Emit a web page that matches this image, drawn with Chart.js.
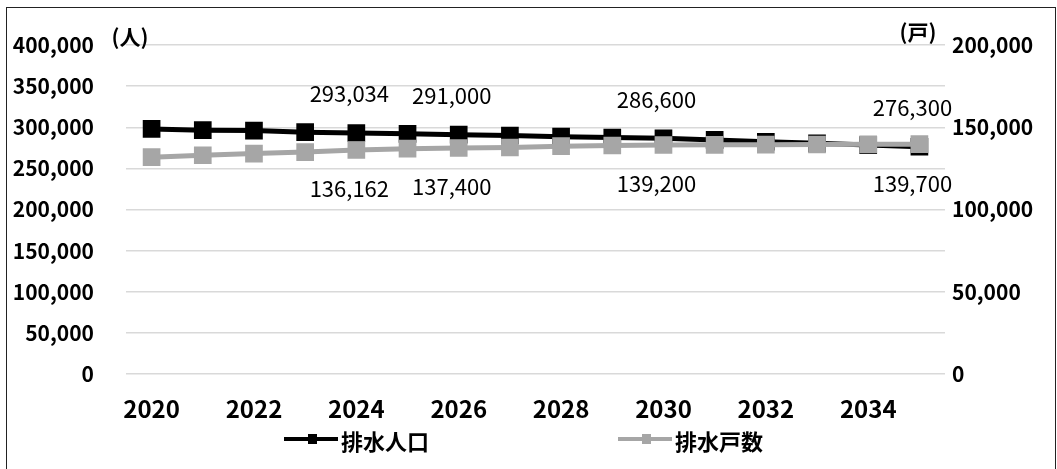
<!DOCTYPE html>
<html lang="ja">
<head>
<meta charset="utf-8">
<script src="https://cdn.jsdelivr.net/npm/chart.js@4.4.1/dist/chart.umd.min.js"></script>
<style>
  html, body { margin: 0; padding: 0; background: #fff; }
  #wrap { position: relative; width: 1057px; height: 469px; overflow: hidden; }
  #drain-chart { position: absolute; left: 0; top: 0; }
  #frame {
    position: absolute; left: 6px; top: 7px; width: 1048px; height: 470px;
    border: 1.5px solid #222; pointer-events: none;
  }
  .legend-item { position: absolute; top: 427px; height: 24px; }
  .legend-item .line { position: absolute; left: 0; top: 10px; width: 54px; height: 4px; }
  .legend-item .mark { position: absolute; left: 24px; top: 7px; width: 9px; height: 10px; }
  .legend-item span {
    position: absolute; left: 57px; top: -3px; white-space: nowrap;
    font: bold 22px "Noto Sans CJK JP", sans-serif; color: #000;
  }
</style>
</head>
<body>
<div id="wrap">
  <canvas id="drain-chart" width="1057" height="469"></canvas>
  <div id="frame"></div>
  <div class="legend-item" style="left:284px">
    <div class="line" style="background:#000"></div><div class="mark" style="background:#000"></div><span>排水人口</span>
  </div>
  <div class="legend-item" style="left:618px">
    <div class="line" style="background:#a6a6a6"></div><div class="mark" style="background:#a6a6a6"></div><span>排水戸数</span>
  </div>
</div>
<script>
const years = [2020, 2021, 2022, 2023, 2024, 2025, 2026, 2027, 2028, 2029, 2030, 2031, 2032, 2033, 2034, 2035];
const population = [298000, 296500, 296000, 294000, 293034, 292000, 291000, 290000, 288500, 287500, 286600, 284600, 282400, 280400, 278300, 276300];
const households = [131800, 133000, 134000, 134900, 136162, 137000, 137400, 137700, 138500, 138900, 139200, 139300, 139400, 139500, 139600, 139700];
const labeledYears = [2024, 2026, 2030, 2035];
const leftTicks = [0, 50000, 100000, 150000, 200000, 250000, 300000, 350000, 400000];
const rightTicks = [0, 50000, 100000, 150000, 200000];

const font = '"Noto Sans CJK JP", "Noto Sans", sans-serif';
Chart.defaults.font.family = font;
Chart.defaults.color = "#000";

const fmt = (v) => v.toLocaleString("en-US");

// value labels above/below points, plus unit captions
const valueLabels = {
  id: "valueLabels",
  afterDatasetsDraw(chart) {
    const ctx = chart.ctx;
    const area = chart.chartArea;
    ctx.save();
    ctx.fillStyle = "#000";
    ctx.textAlign = "center";
    ctx.textBaseline = "middle";
    ctx.font = `22px ${font}`;
    chart.data.datasets.forEach((ds, i) => {
      const meta = chart.getDatasetMeta(i);
      const dy = i === 0 ? -39 : 39;
      labeledYears.forEach((yr) => {
        const j = years.indexOf(yr);
        const pt = meta.data[j];
        ctx.fillText(fmt(ds.data[j]), pt.x - 7, pt.y + dy);
      });
    });
    ctx.font = `bold 21px ${font}`;
    ctx.fillText("(人)", area.left + 4, area.top - 8);
    ctx.fillText("(戸)", area.right - 27, area.top - 13);
    ctx.restore();
  },
};

window.onload = () => {
  const ctx = document.getElementById("drain-chart");
  new Chart(ctx, {
    type: "line",
    data: {
      labels: years,
      datasets: [
        {
          label: "排水人口",
          data: population,
          yAxisID: "y",
          order: 1,
          borderColor: "#000",
          backgroundColor: "#000",
          borderWidth: 5,
          pointStyle: "rect",
          pointRadius: 12.5,
          pointBorderWidth: 0,
          tension: 0,
        },
        {
          label: "排水戸数",
          data: households,
          yAxisID: "y2",
          order: 0,
          borderColor: "#a6a6a6",
          backgroundColor: "#a6a6a6",
          borderWidth: 5,
          pointStyle: "rect",
          pointRadius: 12.5,
          pointBorderWidth: 0,
          tension: 0,
        },
      ],
    },
    options: {
      responsive: false,
      animation: false,
      devicePixelRatio: 1,
      layout: { padding: { top: 45, left: 0, right: 0, bottom: 0 } },
      plugins: { legend: { display: false }, tooltip: { enabled: false } },
      scales: {
        x: {
          offset: true,
          grid: { display: false, drawTicks: false },
          border: { display: false },
          ticks: {
            autoSkip: false,
            maxRotation: 0,
            padding: 20,
            font: { size: 24, weight: "bold" },
            callback: (v, i) => (i % 2 === 0 ? years[i] : ""),
          },
          afterFit: (s) => { s.height = 95; },
        },
        y: {
          position: "left",
          min: leftTicks[0],
          max: leftTicks[leftTicks.length - 1],
          afterBuildTicks: (s) => { s.ticks = leftTicks.map((v) => ({ value: v })); },
          grid: { color: "#d9d9d9", lineWidth: 1.5, drawTicks: false },
          border: { display: false },
          ticks: { padding: 32, font: { size: 21, weight: "bold" }, callback: (v) => fmt(v) },
          afterFit: (s) => { s.width = 126; },
        },
        y2: {
          position: "right",
          min: rightTicks[0],
          max: rightTicks[rightTicks.length - 1],
          afterBuildTicks: (s) => { s.ticks = rightTicks.map((v) => ({ value: v })); },
          grid: { display: false, drawTicks: false },
          border: { display: false },
          ticks: { padding: 7, font: { size: 21, weight: "bold" }, callback: (v) => fmt(v) },
          afterFit: (s) => { s.width = 112; },
        },
      },
    },
    plugins: [valueLabels],
  });
};
</script>
</body>
</html>
